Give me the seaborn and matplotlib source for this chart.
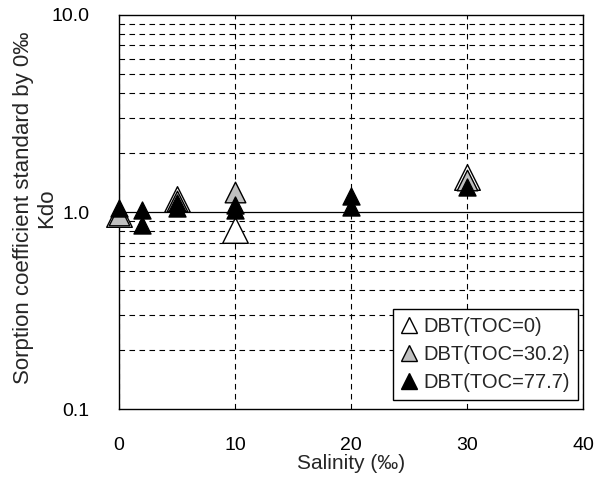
import matplotlib
matplotlib.use("Agg")
import matplotlib.pyplot as plt
from matplotlib.lines import Line2D
from matplotlib.ticker import FixedLocator, LogLocator, NullFormatter
import seaborn as sns
import pandas as pd

# --- data ---
salinity_toc0 = [0, 5, 10, 30]
kdo_toc0 = [0.98, 1.16, 0.81, 1.51]

salinity_toc30 = [0, 5, 10, 30]
kdo_toc30 = [0.97, 1.14, 1.26, 1.46]

salinity_toc77 = [0, 2, 2, 5, 5, 10, 10, 20, 20, 30]
kdo_toc77 = [1.05, 1.02, 0.86, 1.11, 1.05, 1.08, 1.02, 1.20, 1.06, 1.34]

series_labels = ["DBT(TOC=0)", "DBT(TOC=30.2)", "DBT(TOC=77.7)"]
y_ticks = [0.1, 1.0, 10.0]
y_ticklabels = ["0.1", "1.0", "10.0"]
x_ticks = [0, 10, 20, 30, 40]

sns.set_style("white")
plt.rcParams['font.family'] = ['Liberation Sans', 'DejaVu Sans']

fig = plt.figure(figsize=(5.95, 4.83), dpi=100)
ax = fig.add_axes([0.2, 0.153, 0.78, 0.816])

styles = [
    dict(color="white", s=340),
    dict(color="#c0c0c0", s=220),
    dict(color="black", s=150),
]
xs = [salinity_toc0, salinity_toc30, salinity_toc77]
ys = [kdo_toc0, kdo_toc30, kdo_toc77]

# open, then grey, then black on top
for x, y, lab, st in zip(xs, ys, series_labels, styles):
    df = pd.DataFrame({"Salinity": x, "Kdo": y})
    sns.scatterplot(data=df, x="Salinity", y="Kdo", ax=ax, marker="^",
                    color=st["color"], s=st["s"], edgecolor="black",
                    linewidth=1, zorder=3, clip_on=False, legend=False)

ax.set_yscale("log")
ax.set_ylim(0.1, 10)
ax.set_xlim(0, 40)
ax.yaxis.set_major_locator(FixedLocator(y_ticks))
ax.set_yticklabels(y_ticklabels)
ax.yaxis.set_minor_locator(LogLocator(base=10, subs=range(2, 10)))
ax.yaxis.set_minor_formatter(NullFormatter())
ax.set_xticks(x_ticks)
ax.set_xticklabels([str(t) for t in x_ticks])

# grid like the excel chart
ax.grid(which="minor", axis="y", color="black", linestyle=(0, (5, 4)), linewidth=0.8)
ax.grid(which="major", axis="x", color="black", linestyle=(0, (5, 4)), linewidth=0.8)
ax.axhline(1.0, color="black", linewidth=0.9, zorder=1)

ax.tick_params(axis="both", which="major", direction="in", length=5, width=0.9,
               labelsize=14, colors="black")
ax.tick_params(axis="x", pad=20)
ax.tick_params(axis="y", pad=21)
ax.tick_params(axis="y", which="minor", length=0)

for sp in ax.spines.values():
    sp.set_visible(True)
    sp.set_color("black")
    sp.set_linewidth(1)

ax.set_xlabel("Salinity (‰)", fontsize=15, labelpad=0)
ax.set_ylabel("Sorption coefficient standard by 0‰\nKdo", fontsize=16,
              linespacing=1.12)
ax.yaxis.set_label_coords(-0.134, 0.51)

handles = [Line2D([], [], linestyle="none", marker="^", markersize=11,
                  markerfacecolor=st["color"], markeredgecolor="black",
                  markeredgewidth=1) for st in styles]
leg = ax.legend(handles, series_labels, loc="lower right",
                bbox_to_anchor=(0.99, 0.022), fontsize=14.5, frameon=True,
                fancybox=False, framealpha=1, edgecolor="black",
                handlelength=0.8, handletextpad=0.35, borderpad=0.4,
                labelspacing=0.45, borderaxespad=0)
leg.get_frame().set_linewidth(1)
leg.set_zorder(5)

fig.savefig("out.png", dpi=100)
